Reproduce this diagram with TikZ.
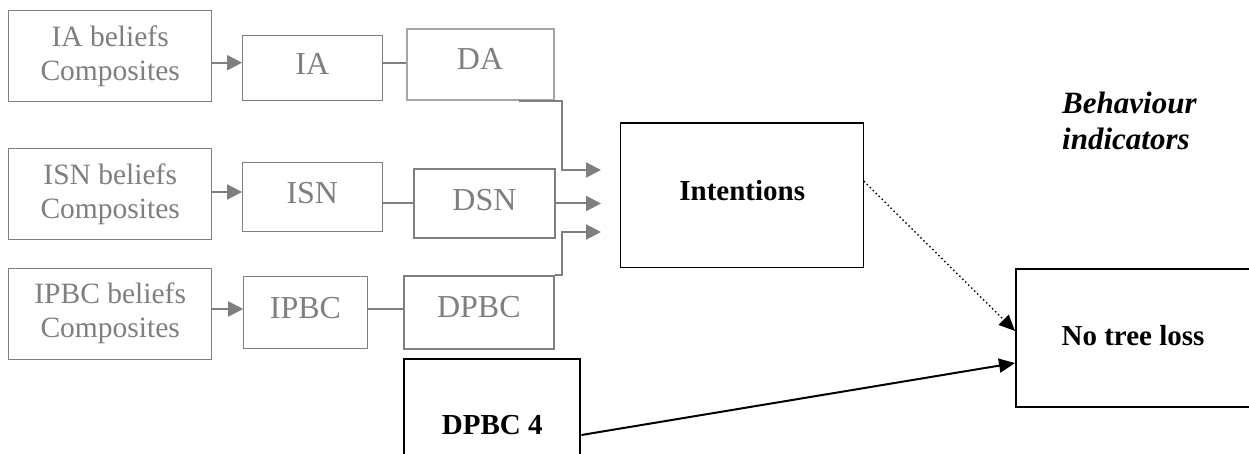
\documentclass[tikz,border=0pt]{standalone}
\usepackage{fontspec}
\setmainfont{Liberation Serif}
\usetikzlibrary{arrows.meta}

\definecolor{midgray}{HTML}{7F7F7F}
\definecolor{lightgray}{HTML}{A6A6A6}

\tikzset{
  beliefbox/.style={draw=midgray, line width=1pt, text=midgray,
    minimum width=203, minimum height=91, align=center, inner sep=0pt,
    font=\fontsize{29.5}{34}\selectfont},
  constbox/.style={draw=midgray, line width=1pt, text=midgray, inner sep=0pt,
    text depth=8pt, font=\fontsize{32}{36}\selectfont},
  directbox/.style={constbox, line width=2pt},
  keybox/.style={draw=black, line width=2pt, inner sep=0pt,
    font=\bfseries\fontsize{29}{33}\selectfont},
  graylink/.style={draw=midgray, line width=2pt},
  grayarrow/.style={graylink, -{Triangle[length=15pt,width=15pt]}},
  blackarrow/.style={draw=black, line width=2pt, -{Triangle[length=16pt,width=14pt]}},
  dotarrow/.style={draw=black, line width=2pt, line cap=round,
    dash pattern=on 0pt off 4.2pt, -{Triangle[length=16pt,width=14pt]}}
}

\begin{document}
\begin{tikzpicture}[x=1pt,y=-1pt]
  \path[use as bounding box, clip] (0,0) rectangle (1249,454);
  \fill[white] (0,0) rectangle (1249,454);

  % belief composites
  \node[beliefbox] (iab)   at (110.2,56.5)  {IA beliefs\\Composites};
  \node[beliefbox] (isnb)  at (110.2,194.5) {ISN beliefs\\Composites};
  \node[beliefbox] (ipbcb) at (110.2,313.5) {IPBC beliefs\\Composites};

  % indirect measures
  \node[constbox, minimum width=139.5, minimum height=64.5] (ia)   at (312.3,67.8)  {IA};
  \node[constbox, minimum width=139.5, minimum height=69.5] (isn)  at (312.3,196.8) {ISN};
  \node[constbox, minimum width=123.6, minimum height=72]   (ipbc) at (305.5,312)   {IPBC};

  % direct measures
  \node[directbox, draw=lightgray, minimum width=147, minimum height=71.5, text depth=11pt] (da) at (480,64.7) {DA};
  \node[directbox, minimum width=140.7, minimum height=69]   (dsn)  at (484.4,203.5) {DSN};
  \node[directbox, minimum width=149.5, minimum height=73, text depth=12pt] (dpbc) at (478.8,312.5) {DPBC};

  % intentions and behaviour
  \node[keybox, line width=1.2pt, minimum width=243, minimum height=144.5, text depth=10pt] (int) at (742.2,195.2) {Intentions};
  \node[keybox, minimum width=176.4, minimum height=132] (dpbcf) at (492.2,425) {DPBC 4};
  \node[keybox, anchor=north west, minimum width=300, minimum height=138] (ntl) at (1015,268) {};
  \node[font=\bfseries\fontsize{29}{33}\selectfont, inner sep=0pt] (ntltext) at (1133,336) {No tree loss};
  \node[anchor=north west, inner sep=0pt, align=left,
        font=\bfseries\itshape\fontsize{31}{36}\selectfont] (beh) at (1062,92) {Behaviour\\indicators};

  % arrow ends in front of the intentions box
  \coordinate (in1) at (601,170);
  \coordinate (in2) at (601,203.5);
  \coordinate (in3) at (601,232);

  % beliefs to indirect measures
  \draw[grayarrow] ([yshift=-6.2pt]iab.east) -- ([yshift=-6.2pt]iab.east -| ia.west);
  \draw[grayarrow] ([yshift=2.5pt]isnb.east) -- ([yshift=2.5pt]isnb.east -| isn.west);
  \draw[grayarrow] ([yshift=4.5pt]ipbcb.east) -- ([yshift=4.5pt]ipbcb.east -| ipbc.west);

  % indirect to direct
  \draw[graylink] ([yshift=5pt]ia.east) -- ([yshift=5pt]ia.east -| da.west);
  \draw[graylink] ([yshift=-6pt]isn.east) -- ([yshift=-6pt]isn.east -| dsn.west);
  \draw[graylink] ([yshift=3pt]ipbc.east) -- ([yshift=3pt]ipbc.east -| dpbc.west);

  % direct measures to intentions
  \draw[grayarrow] ([xshift=-35.5pt]da.south east) -- ++(43,0) |- (in1);
  \draw[grayarrow] (dsn.east) -- (in2);
  \draw[grayarrow] (dpbc.north east) -- ++(7.5,0) |- (in3);

  % to behaviour
  \draw[dotarrow] ([yshift=13.5pt]int.east) -- ([yshift=7pt]ntl.west);
  \draw[blackarrow] ([yshift=-10pt]dpbcf.east) -- ([yshift=-25pt]ntl.west);
\end{tikzpicture}
\end{document}
